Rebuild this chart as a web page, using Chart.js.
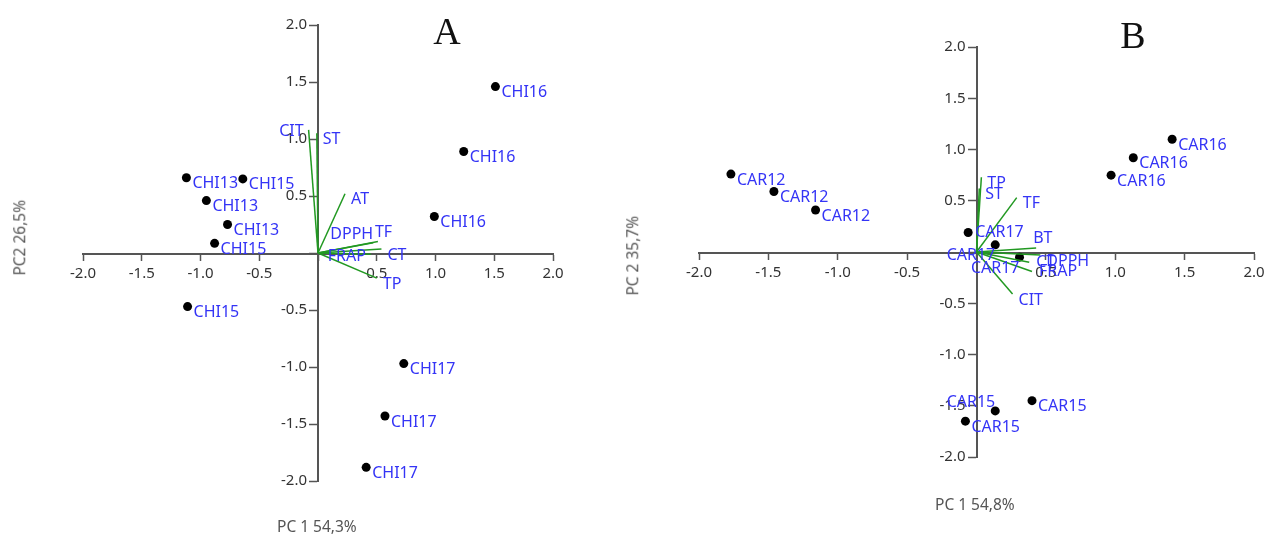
<!DOCTYPE html>
<html>
<head>
<meta charset="utf-8">
<script src="https://cdn.jsdelivr.net/npm/chart.js@4/dist/chart.umd.min.js"></script>
<style>
  html, body { margin: 0; padding: 0; background: #fff; width: 1266px; height: 535px; overflow: hidden; }
  .pane   { position: absolute; top: 0; }
  .axt    { position: absolute; font-family: "Noto Sans", sans-serif; font-size: 15.5px; line-height: 1; color: #555; white-space: nowrap; }
  .rot    { width: 120px; text-align: center; transform: rotate(-90deg); }
  .letter { position: absolute; width: 60px; text-align: center; font-family: "Liberation Serif", serif; font-size: 38px; line-height: 1; color: #111; }
</style>
</head>
<body>

<div class="pane" style="left:0;width:633px;height:535px"><canvas id="pcaA" width="633" height="535"></canvas></div>
<div class="pane" style="left:620px;width:660px;height:535px"><canvas id="pcaB" width="660" height="535"></canvas></div>

<div class="letter" style="left:417px;top:12px">A</div>
<div class="letter" style="left:1103px;top:16px">B</div>

<div class="axt" style="left:277px;top:519px">PC 1 54,3%</div>
<div class="axt rot" style="left:-40px;top:230px">PC2 26,5%</div>
<div class="axt" style="left:935px;top:497px">PC 1 54,8%</div>
<div class="axt rot" style="left:573px;top:248px">PC 2 35,7%</div>

<script>
// ── DATA: panel A (CHI) ───────────────────────────────────────────────────
const ticksA   = [-2, -1.5, -1, -0.5, 0, 0.5, 1, 1.5, 2];
const samplesA = ['CHI16', 'CHI16', 'CHI16', 'CHI13', 'CHI15', 'CHI13', 'CHI13', 'CHI15', 'CHI15', 'CHI17', 'CHI17', 'CHI17'];
const scoreXA  = [1.51, 1.24, 0.99, -1.12, -0.64, -0.95, -0.77, -0.88, -1.11, 0.73, 0.57, 0.41];
const scoreYA  = [1.46, 0.89, 0.32, 0.66, 0.65, 0.46, 0.25, 0.085, -0.47, -0.97, -1.43, -1.88];
const varsA    = ['CIT', 'ST', 'AT', 'DPPH', 'TF', 'CT', 'FRAP', 'TP'];
const loadXA   = [-0.08, -0.01, 0.23, 0.47, 0.51, 0.54, 0.45, 0.50];
const loadYA   = [1.08, 1.05, 0.52, 0.09, 0.10, 0.035, -0.01, -0.22];

// ── DATA: panel B (CAR) ───────────────────────────────────────────────────
const ticksB   = [-2, -1.5, -1, -0.5, 0, 0.5, 1, 1.5, 2];
const samplesB = ['CAR12', 'CAR12', 'CAR12', 'CAR16', 'CAR16', 'CAR16', 'CAR17', 'CAR17', 'CAR17', 'CAR15', 'CAR15', 'CAR15'];
const scoreXB  = [-1.77, -1.46, -1.16, 1.41, 1.13, 0.97, -0.06, 0.135, 0.31, 0.40, 0.135, -0.08];
const scoreYB  = [0.76, 0.59, 0.41, 1.10, 0.92, 0.75, 0.19, 0.07, -0.05, -1.45, -1.55, -1.65];
const varsB    = ['TP', 'ST', 'TF', 'BT', 'DPPH', 'CT', 'FRAP', 'CIT'];
const loadXB   = [0.035, 0.02, 0.29, 0.43, 0.46, 0.38, 0.40, 0.26];
const loadYB   = [0.73, 0.62, 0.53, 0.04, -0.03, -0.10, -0.19, -0.41];

// ── label placement (which side of the mark the name goes) ────────────────
const placeScoreA = ['se', 'se', 'se', 'se', 'se', 'se', 'se', 'se', 'se', 'se', 'se', 'se'];
const placeLoadA  = ['w', 'se', 'se', 'nw', 'ne', 'se', 'w', 'se'];
const placeScoreB = ['se', 'se', 'se', 'se', 'se', 'se', 'e', 'sw', 'sw', 'se', 'nw', 'se'];
const placeLoadB  = ['se', 'se', 'se', 'ne', 'se', 'e', 'e', 'se'];

const OFFSETS = {
  se: [6, 6, 'left'],
  e:  [7, 0, 'left'],
  sw: [0, 11, 'right'],
  nw: [0, -8, 'right'],
  ne: [-3, -9, 'left'],
  w:  [-5, 2, 'right']
};

const LABEL_BLUE = '#3434f6';
const VEC_GREEN  = '#229922';
const AXIS_GREY  = '#555555';

// draws the sample / variable names next to their marks
const tagPlugin = {
  id: 'tags',
  afterDatasetsDraw(chart) {
    const ctx = chart.ctx;
    ctx.save();
    ctx.font = '16px "Noto Sans", sans-serif';
    ctx.fillStyle = LABEL_BLUE;
    ctx.textBaseline = 'middle';
    chart.data.datasets.forEach((ds, i) => {
      if (!ds.tags) return;
      const els = chart.getDatasetMeta(i).data;
      ds.tags.forEach((t, j) => {
        const el  = els[ds.tagAt != null ? ds.tagAt : j];
        const off = OFFSETS[ds.place[j]] || OFFSETS.se;
        ctx.textAlign = off[2];
        ctx.fillText(t, el.x + off[0], el.y + off[1]);
      });
    });
    ctx.restore();
  }
};

function axisOpts(tickVals, tickLen, pad) {
  return {
    type: 'linear',
    position: 'center',
    min: tickVals[0],
    max: tickVals[tickVals.length - 1],
    afterBuildTicks: s => { s.ticks = tickVals.map(v => ({ value: v })); },
    grid:   { drawOnChartArea: false, drawTicks: true, tickLength: tickLen, tickColor: AXIS_GREY, tickWidth: 1.5 },
    border: { display: true, color: AXIS_GREY, width: 2 },
    ticks:  {
      autoSkip: false,
      padding: pad,
      color: '#333',
      font: { family: 'Noto Sans', size: 15 },
      callback: v => (v === 0 ? '' : Number(v).toFixed(1))
    }
  };
}

function buildPca(id, cfg) {
  const datasets = cfg.vars.map((name, i) => ({
    data: [{ x: 0, y: 0 }, { x: cfg.lx[i], y: cfg.ly[i] }],
    showLine: true,
    borderColor: VEC_GREEN,
    borderWidth: 1.5,
    pointRadius: 0,
    tags: [name],
    place: [cfg.lplace[i]],
    tagAt: 1
  }));

  datasets.push({
    data: cfg.sx.map((x, i) => ({ x, y: cfg.sy[i] })),
    showLine: false,
    pointRadius: 4.5,
    pointBackgroundColor: '#000',
    pointBorderWidth: 0,
    tags: cfg.names,
    place: cfg.splace
  });

  return new Chart(document.getElementById(id), {
    type: 'scatter',
    data: { datasets },
    options: {
      responsive: false,
      animation: false,
      events: [],
      layout: { padding: cfg.pad },
      plugins: { legend: { display: false }, tooltip: { enabled: false } },
      scales: {
        x: axisOpts(cfg.ticks, 6, 6),
        y: axisOpts(cfg.ticks, 8, 3)
      }
    },
    plugins: [tagPlugin]
  });
}

buildPca('pcaA', {
  ticks: ticksA, names: samplesA, sx: scoreXA, sy: scoreYA, splace: placeScoreA,
  vars: varsA, lx: loadXA, ly: loadYA, lplace: placeLoadA,
  pad: { left: 83, right: 80, top: 25, bottom: 54 }
});

buildPca('pcaB', {
  ticks: ticksB, names: samplesB, sx: scoreXB, sy: scoreYB, splace: placeScoreB,
  vars: varsB, lx: loadXB, ly: loadYB, lplace: placeLoadB,
  pad: { left: 79, right: 26, top: 47, bottom: 78 }
});
</script>
</body>
</html>
